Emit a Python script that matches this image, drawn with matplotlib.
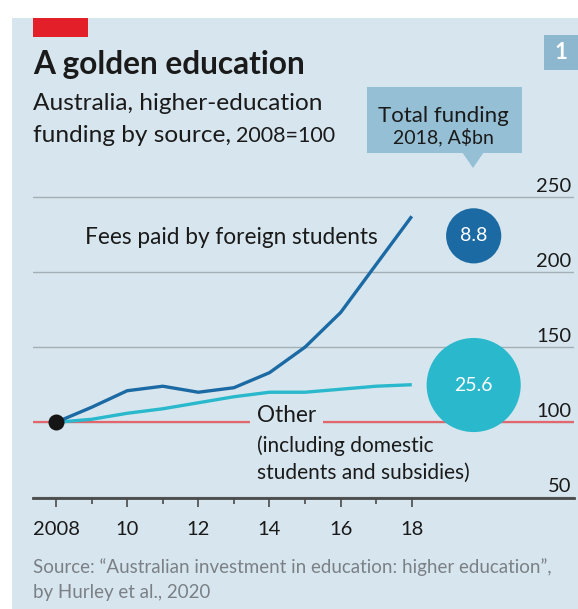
import matplotlib
matplotlib.use("Agg")
import matplotlib.pyplot as plt
from matplotlib.patches import Rectangle, Polygon
from matplotlib.transforms import offset_copy
import numpy as np

# ---------------- data ----------------
years = [2008, 2009, 2010, 2011, 2012, 2013, 2014, 2015, 2016, 2017, 2018]
foreign_fees = [100, 110, 121, 124, 120, 123, 133, 150, 173, 205, 237]
other_funding = [100, 102, 106, 109, 113, 117, 120, 120, 122, 124, 125]
bubble_values = [8.8, 25.6]
bubble_labels = ["8.8", "25.6"]
y_ticks = [50, 100, 150, 200, 250]
y_tick_labels = ["50", "100", "150", "200", "250"]
x_major = [2008, 2010, 2012, 2014, 2016, 2018]
x_minor = [2009, 2011, 2013, 2015, 2017]
x_tick_labels = ["2008", "10", "12", "14", "16", "18"]

# ---------------- style ----------------
plt.rcParams["font.family"] = ["Lato", "DejaVu Sans"]
BG = "#d7e6ee"
DARK = "#1c6aa4"
CYAN = "#2ab8cc"
RED = "#e2666c"
GRID = "#a3afb5"
AXIS = "#4a4a4a"
TEXT = "#1a1a1a"
SRC = "#7a8086"
BOX = "#95bfd4"
BOX1 = "#8db7cf"

W, H = 578, 609
fig = plt.figure(figsize=(W / 100, H / 100), dpi=100)
fig.patch.set_facecolor("white")


def fx(px):
    return px / W


def fy(py):
    return 1 - py / H


# panel background
fig.patches.append(Rectangle((fx(12), 0), 1 - fx(12), fy(18), transform=fig.transFigure,
                             facecolor=BG, edgecolor="none", zorder=-10))
# red tag
fig.patches.append(Rectangle((fx(33), fy(37)), fx(88) - fx(33), (37 - 18) / H,
                             transform=fig.transFigure, facecolor="#e3202a", edgecolor="none", zorder=-5))
# chart number box
fig.patches.append(Rectangle((fx(544), fy(70)), 1 - fx(544), (70 - 35) / H,
                             transform=fig.transFigure, facecolor=BOX1, edgecolor="none", zorder=-5))
fig.text(fx(561), fy(52.5), "1", color="white", fontsize=16, fontweight="bold",
         ha="center", va="center")

# titles
fig.text(fx(33), fy(74), "A golden education", fontsize=22.8, fontweight="bold",
         color=TEXT, va="baseline", ha="left")
fig.text(fx(33), fy(110), "Australia, higher-education", fontsize=17.6,
         color=TEXT, va="baseline", ha="left")
fig.text(fx(33), fy(142), "funding by source,", fontsize=17.6,
         color=TEXT, va="baseline", ha="left")
fig.text(fx(236), fy(142), "2008=100", fontsize=15.5,
         color=TEXT, va="baseline", ha="left")

# callout box
fig.patches.append(Rectangle((fx(367), fy(153)), fx(522) - fx(367), (153 - 87) / H,
                             transform=fig.transFigure, facecolor=BOX, edgecolor="none", zorder=-5))
fig.patches.append(Polygon([(fx(462), fy(152)), (fx(484), fy(152)), (fx(473), fy(168))],
                           closed=True, transform=fig.transFigure, facecolor=BOX,
                           edgecolor="none", zorder=-5))
fig.text(fx(443), fy(122), "Total funding", fontsize=16, color=TEXT,
         ha="center", va="baseline")
fig.text(fx(443), fy(143), "2018, A$bn", fontsize=14, color=TEXT,
         ha="center", va="baseline")

# ---------------- axes ----------------
ax_l, ax_r, ax_t, ax_b = 33, 574, 180.2, 497.5
ax = fig.add_axes([fx(ax_l), fy(ax_b), fx(ax_r) - fx(ax_l), (ax_b - ax_t) / H])
ax.set_facecolor("none")
ax.set_xlim(2007.353, 2022.56)
ax.set_ylim(50, 261)

for s in ["top", "left", "right"]:
    ax.spines[s].set_visible(False)
ax.spines["bottom"].set_color(AXIS)
ax.spines["bottom"].set_linewidth(2.0)
ax.spines["bottom"].set_zorder(5)

ax.set_yticks(y_ticks)
ax.yaxis.grid(True, color=GRID, linewidth=1.0, zorder=1)
ax.tick_params(axis="y", length=0, labelleft=False, labelright=False)
ax.set_axisbelow(True)

ax.set_xticks(x_major)
ax.set_xticks(x_minor, minor=True)
ax.set_xticklabels(x_tick_labels, fontsize=14.5, color=TEXT)
ax.tick_params(axis="x", which="major", direction="out", length=6.5, width=1.2,
               color=AXIS, pad=10.5)
ax.tick_params(axis="x", which="minor", direction="out", length=4.5, width=1.2,
               color=AXIS)

# y tick labels, right aligned above gridlines
ytrans = offset_copy(ax.get_yaxis_transform(), fig=fig, x=-3, y=5, units="dots")
for v, lab in zip(y_ticks, y_tick_labels):
    ax.text(1.0, v, lab, transform=ytrans, ha="right", va="baseline",
            fontsize=14.5, color=TEXT, zorder=6)

# baseline at 100
ax.axhline(100, color=RED, linewidth=1.6, zorder=2)

# series
ax.plot(years, other_funding, color=CYAN, linewidth=2.4, zorder=4,
        solid_capstyle="butt", solid_joinstyle="round")
ax.plot(years, foreign_fees, color=DARK, linewidth=2.4, zorder=4,
        solid_capstyle="butt", solid_joinstyle="round")
ax.scatter([years[0]], [foreign_fees[0]], s=(16 * 0.72) ** 2, color="#151515",
           zorder=6, linewidths=0)

# bubbles for 2018 totals
bubble_x = 2019.74
bubble_y = [224, 124.8]
bubble_colors = [DARK, CYAN]
sizes = [(18.6 * 0.72) ** 2 * v for v in bubble_values]
ax.scatter([bubble_x] * len(bubble_values), bubble_y, s=sizes, c=bubble_colors,
           linewidths=0, zorder=7, clip_on=False)
for y, lab in zip(bubble_y, bubble_labels):
    ax.text(bubble_x, y, lab, color="white", fontsize=14, ha="center", va="center",
            zorder=8)

# labels
ax.text(2008.82, 218.5, "Fees paid by foreign students", fontsize=16.3, color=TEXT,
        ha="left", va="baseline", zorder=6)
ax.text(2013.65, 100, "Other", fontsize=16.3, color=TEXT, ha="left", va="baseline",
        zorder=3, bbox=dict(boxstyle="square,pad=0.3", facecolor=BG, edgecolor="none"))
ax.text(2013.65, 80.2, "(including domestic", fontsize=15,
        color=TEXT, ha="left", va="baseline", zorder=6)
ax.text(2013.65, 62.3, "students and subsidies)", fontsize=15,
        color=TEXT, ha="left", va="baseline", zorder=6)

# source
fig.text(fx(33), fy(573), "Source: \u201cAustralian investment in education: higher education\u201d,",
         fontsize=13.5, color=SRC, ha="left", va="baseline")
fig.text(fx(33), fy(598), "by Hurley et al., 2020", fontsize=13.5, color=SRC,
         ha="left", va="baseline")

fig.savefig("out.png", dpi=100, facecolor=fig.get_facecolor())
